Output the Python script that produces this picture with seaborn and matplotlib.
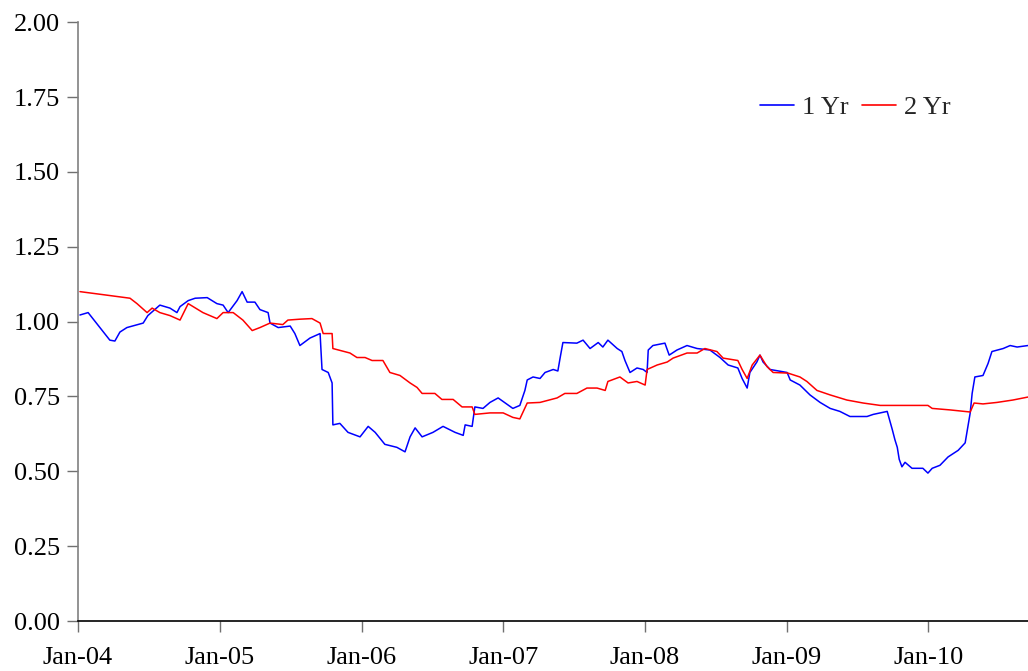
import seaborn as sns
import matplotlib.pyplot as plt
import matplotlib.dates as mdates
import pandas as pd

# 1 Yr series
dates_1yr = ["2004-01-06", "2004-01-27", "2004-03-23", "2004-04-05", "2004-04-18", "2004-05-06",
             "2004-06-17", "2004-06-29", "2004-07-30", "2004-08-25", "2004-09-12", "2004-09-20",
             "2004-10-11", "2004-10-29", "2004-11-29", "2004-12-24", "2005-01-09", "2005-01-22",
             "2005-02-14", "2005-02-27", "2005-03-12", "2005-04-01", "2005-04-14", "2005-05-05",
             "2005-05-10", "2005-05-31", "2005-07-01", "2005-07-13", "2005-07-26", "2005-08-21",
             "2005-09-16", "2005-09-21", "2005-10-07", "2005-10-17", "2005-10-19", "2005-11-06",
             "2005-11-27", "2005-12-28", "2006-01-18", "2006-02-05", "2006-03-02", "2006-04-02",
             "2006-04-23", "2006-05-06", "2006-05-19", "2006-06-06", "2006-07-04", "2006-07-30",
             "2006-08-30", "2006-09-20", "2006-09-25", "2006-10-13", "2006-10-20", "2006-11-10",
             "2006-11-28", "2006-12-19", "2007-01-26", "2007-02-13", "2007-02-26", "2007-03-04",
             "2007-03-19", "2007-04-06", "2007-04-19", "2007-05-10", "2007-05-22", "2007-05-28",
             "2007-06-04", "2007-07-10", "2007-07-26", "2007-08-13", "2007-09-03", "2007-09-15",
             "2007-09-28", "2007-10-22", "2007-11-03", "2007-11-11", "2007-11-24", "2007-12-12",
             "2007-12-28", "2008-01-07", "2008-01-10", "2008-01-22", "2008-02-22", "2008-03-04",
             "2008-03-24", "2008-04-19", "2008-05-15", "2008-06-17", "2008-07-13", "2008-08-03",
             "2008-08-28", "2008-09-08", "2008-09-21", "2008-09-28", "2008-10-16", "2008-10-24",
             "2008-11-01", "2008-11-19", "2009-01-02", "2009-01-10", "2009-02-04", "2009-03-02",
             "2009-03-28", "2009-04-23", "2009-05-18", "2009-06-13", "2009-07-27", "2009-08-12",
             "2009-09-17", "2009-09-30", "2009-10-07", "2009-10-13", "2009-10-18", "2009-10-25",
             "2009-11-02", "2009-11-20", "2009-12-18", "2009-12-31", "2010-01-11", "2010-01-31",
             "2010-02-21", "2010-03-19", "2010-04-06", "2010-04-13", "2010-04-19", "2010-04-24",
             "2010-05-01", "2010-05-22", "2010-06-04", "2010-06-14", "2010-07-13", "2010-07-31",
             "2010-08-18", "2010-09-15"]
values_1yr = [1.022, 1.03, 0.938, 0.935, 0.965, 0.98,
              0.995, 1.02, 1.055, 1.045, 1.03, 1.05,
              1.07, 1.078, 1.08, 1.06, 1.055, 1.03,
              1.07, 1.10, 1.065, 1.065, 1.04, 1.03,
              0.995, 0.98, 0.985, 0.96, 0.92, 0.945,
              0.96, 0.84, 0.83, 0.795, 0.655, 0.66,
              0.63, 0.615, 0.65, 0.63, 0.59, 0.58,
              0.565, 0.615, 0.645, 0.615, 0.63, 0.65,
              0.63, 0.62, 0.655, 0.65, 0.715, 0.71,
              0.73, 0.745, 0.71, 0.72, 0.77, 0.805,
              0.815, 0.81, 0.83, 0.84, 0.835, 0.88,
              0.93, 0.928, 0.938, 0.91, 0.93, 0.915,
              0.938, 0.91, 0.90, 0.87, 0.83, 0.845,
              0.84, 0.83, 0.905, 0.92, 0.928, 0.888,
              0.905, 0.92, 0.91, 0.905, 0.88, 0.855,
              0.845, 0.81, 0.778, 0.83, 0.865, 0.888,
              0.865, 0.84, 0.83, 0.805, 0.788, 0.755,
              0.73, 0.71, 0.70, 0.683, 0.683, 0.69,
              0.70, 0.64, 0.605, 0.58, 0.54, 0.515,
              0.53, 0.51, 0.51, 0.494, 0.51, 0.52,
              0.548, 0.57, 0.595, 0.648, 0.695, 0.76,
              0.815, 0.82, 0.86, 0.90, 0.91, 0.92,
              0.915, 0.92]

# 2 Yr series
dates_2yr = ["2004-01-06", "2004-03-05", "2004-05-14", "2004-06-01", "2004-06-27", "2004-07-10",
             "2004-07-30", "2004-08-25", "2004-09-20", "2004-10-11", "2004-11-18", "2004-12-24",
             "2005-01-09", "2005-02-04", "2005-03-01", "2005-03-25", "2005-04-14", "2005-05-10",
             "2005-06-12", "2005-06-25", "2005-07-26", "2005-08-26", "2005-09-16", "2005-09-24",
             "2005-10-17", "2005-10-19", "2005-12-02", "2005-12-20", "2006-01-10", "2006-01-28",
             "2006-02-25", "2006-03-15", "2006-04-10", "2006-05-06", "2006-05-24", "2006-06-06",
             "2006-07-09", "2006-07-27", "2006-08-25", "2006-09-17", "2006-10-13", "2006-10-20",
             "2006-11-28", "2007-01-01", "2007-01-26", "2007-02-13", "2007-03-04", "2007-04-06",
             "2007-05-20", "2007-06-09", "2007-07-10", "2007-08-05", "2007-08-31", "2007-09-21",
             "2007-09-28", "2007-10-29", "2007-11-19", "2007-12-12", "2008-01-02", "2008-01-07",
             "2008-02-02", "2008-02-28", "2008-03-14", "2008-04-19", "2008-05-15", "2008-06-04",
             "2008-07-05", "2008-07-21", "2008-08-28", "2008-09-08", "2008-09-21", "2008-10-04",
             "2008-10-24", "2008-11-11", "2008-11-27", "2009-01-04", "2009-02-04", "2009-02-22",
             "2009-03-20", "2009-04-23", "2009-06-05", "2009-07-17", "2009-08-30", "2009-11-23",
             "2009-12-31", "2010-01-11", "2010-02-26", "2010-04-19", "2010-04-29", "2010-05-22",
             "2010-06-27", "2010-08-07", "2010-09-15"]
values_2yr = [1.10, 1.09, 1.078, 1.06, 1.03, 1.045,
              1.03, 1.02, 1.005, 1.06, 1.03, 1.01,
              1.03, 1.03, 1.005, 0.97, 0.98, 0.995,
              0.99, 1.005, 1.008, 1.01, 0.995, 0.96,
              0.96, 0.91, 0.895, 0.88, 0.88, 0.87,
              0.87, 0.83, 0.82, 0.795, 0.78, 0.76,
              0.76, 0.74, 0.74, 0.715, 0.715, 0.69,
              0.695, 0.695, 0.68, 0.675, 0.728, 0.73,
              0.745, 0.76, 0.76, 0.778, 0.778, 0.77,
              0.80, 0.815, 0.795, 0.80, 0.788, 0.84,
              0.855, 0.865, 0.878, 0.895, 0.895, 0.91,
              0.90, 0.878, 0.87, 0.84, 0.81, 0.855,
              0.888, 0.85, 0.83, 0.828, 0.815, 0.80,
              0.77, 0.755, 0.738, 0.728, 0.72, 0.72,
              0.72, 0.71, 0.705, 0.698, 0.728, 0.725,
              0.73, 0.738, 0.748]

y_ticks = [0.00, 0.25, 0.50, 0.75, 1.00, 1.25, 1.50, 1.75, 2.00]
x_tick_years = [2004, 2005, 2006, 2007, 2008, 2009, 2010]

df = pd.concat([
    pd.DataFrame({"date": pd.to_datetime(dates_1yr), "value": values_1yr, "series": "1 Yr"}),
    pd.DataFrame({"date": pd.to_datetime(dates_2yr), "value": values_2yr, "series": "2 Yr"}),
])

sns.set_style("white")
plt.rcParams["font.family"] = ["Liberation Serif", "DejaVu Serif"]

fig = plt.figure(figsize=(10.28, 6.71), dpi=100)
ax = fig.add_axes([0.0759, 0.0745, 0.9241, 0.8925])

sns.lineplot(data=df, x="date", y="value", hue="series",
             palette={"1 Yr": "#0000ff", "2 Yr": "#ff0000"},
             linewidth=1.1, ax=ax, estimator=None, sort=False)

ax.set_xlim(pd.Timestamp("2004-01-01"), pd.Timestamp("2010-09-15"))
ax.set_ylim(0, 2.0)
ax.set_yticks(y_ticks)
ax.set_yticklabels([f"{t:.2f}" for t in y_ticks])
ax.set_xticks([pd.Timestamp(f"{y}-01-01") for y in x_tick_years])
ax.xaxis.set_major_formatter(mdates.DateFormatter("%b-%y"))
ax.set_xlabel("")
ax.set_ylabel("")

ax.tick_params(axis="both", direction="out", length=8, width=1, color="#707070",
               labelsize=19, colors="black", bottom=True, left=True)
ax.tick_params(axis="x", pad=11)
ax.tick_params(axis="y", pad=5)

sns.despine(ax=ax, top=True, right=True)
ax.spines["left"].set_color("#808080")
ax.spines["left"].set_linewidth(1.2)
ax.spines["bottom"].set_color("black")
ax.spines["bottom"].set_linewidth(1.2)

leg = ax.legend(loc="center", bbox_to_anchor=(0.818, 0.858), ncol=2, frameon=False,
                fontsize=19, handlelength=1.3, handletextpad=0.3, columnspacing=0.5)
for line in leg.get_lines():
    line.set_linewidth(1.2)

fig.savefig("out.png", dpi=100)
